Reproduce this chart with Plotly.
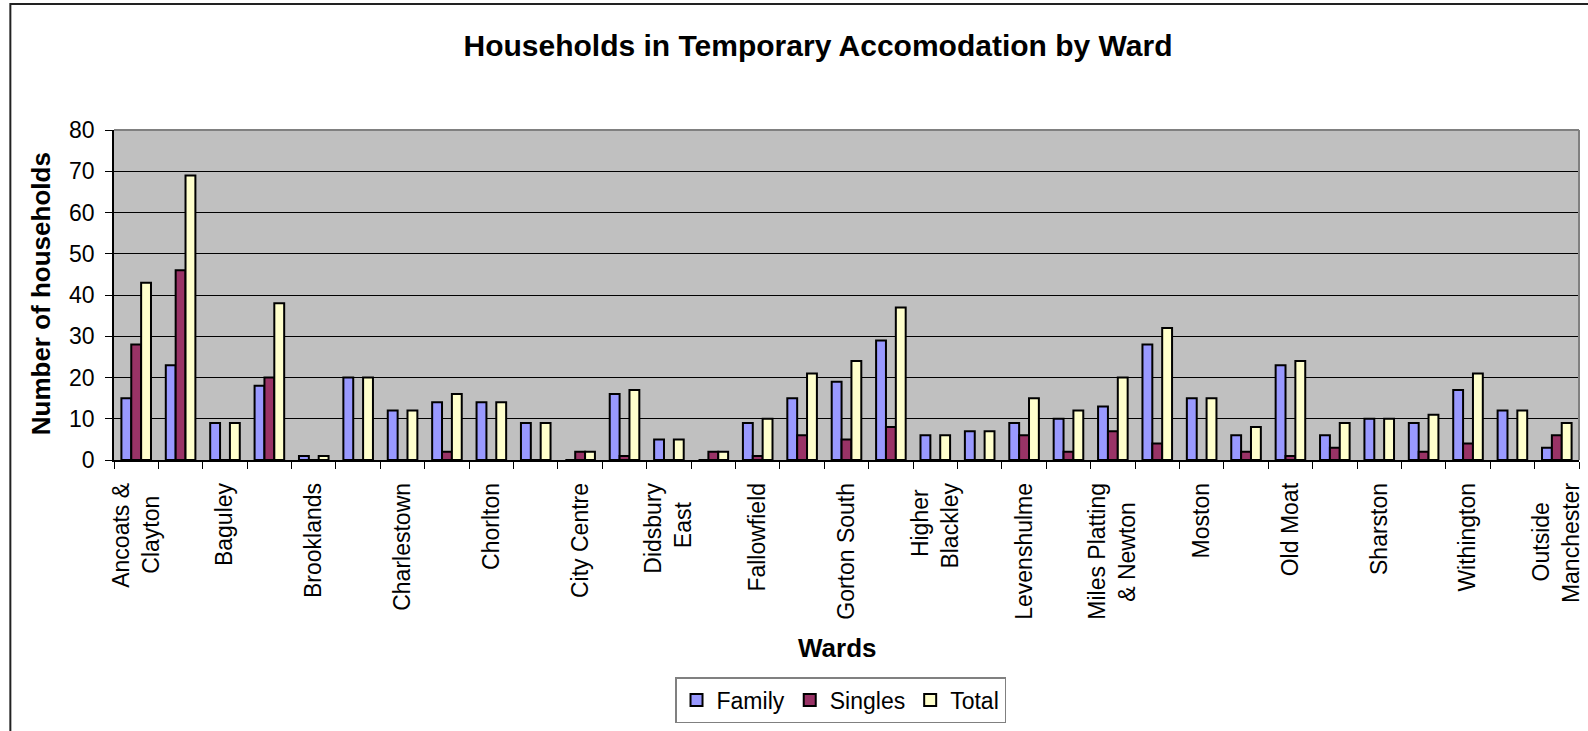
import plotly.graph_objects as go

# Wards in alphabetical order (only every other ward gets a printed label)
wards = [
    "Ancoats & Clayton", "Ardwick", "Baguley", "Bradford", "Brooklands",
    "Burnage", "Charlestown", "Cheetham", "Chorlton", "Chorlton Park",
    "City Centre", "Crumpsall", "Didsbury East", "Didsbury West", "Fallowfield",
    "Gorton North", "Gorton South", "Harpurhey", "Higher Blackley", "Hulme",
    "Levenshulme", "Longsight", "Miles Platting & Newton", "Moss Side", "Moston",
    "Northenden", "Old Moat", "Rusholme", "Sharston", "Whalley Range",
    "Withington", "Woodhouse Park", "Outside Manchester",
]

# Two-line labels: trailing no-break spaces centre the shorter line
NB = "\u00a0"
tick_labels = [
    "Ancoats &<br>Clayton" + NB * 2, "", "Baguley", "", "Brooklands",
    "", "Charlestown", "", "Chorlton", "",
    "City Centre", "", "Didsbury<br>East" + NB * 3, "", "Fallowfield",
    "", "Gorton South", "", "Higher" + NB + "<br>Blackley", "",
    "Levenshulme", "", "Miles Platting<br>& Newton" + NB * 3, "", "Moston",
    "", "Old Moat", "", "Sharston", "",
    "Withington", "", "Outside" + NB * 3 + "<br>Manchester",
]

family = [15, 23, 9, 18, 1, 20, 12, 14, 14, 9, 0, 16, 5, 0, 9, 15, 19, 29,
          6, 7, 9, 10, 13, 28, 15, 6, 23, 6, 10, 9, 17, 12, 3]
singles = [28, 46, 0, 20, 0, 0, 0, 2, 0, 0, 2, 1, 0, 2, 1, 6, 5, 8,
           0, 0, 6, 2, 7, 4, 0, 2, 1, 3, 0, 2, 4, 0, 6]
total = [43, 69, 9, 38, 1, 20, 12, 16, 14, 9, 2, 17, 5, 2, 10, 21, 24, 37,
         6, 7, 15, 12, 20, 32, 15, 8, 24, 9, 10, 11, 21, 12, 9]

FONT = "Liberation Sans, Arial, sans-serif"

# Plot-area geometry in pixels
W, H = 1588, 731
L, R, T, B = 114, 1584, 130, 460


def px_x(px):
    return (px - L) / (R - L)


def px_y(py):
    return (B - py) / (B - T)


fig = go.Figure()
for name, vals, color in [
    ("Family", family, "#9999FF"),
    ("Singles", singles, "#993366"),
    ("Total", total, "#FFFFCC"),
]:
    fig.add_trace(go.Bar(
        name=name, x=wards, y=vals,
        marker=dict(color=color, line=dict(color="black", width=2)),
    ))

fig.update_layout(
    width=W, height=H,
    margin=dict(l=L, r=W - R, t=T, b=H - B, pad=0),
    paper_bgcolor="white",
    plot_bgcolor="#C0C0C0",
    barmode="group",
    bargap=1 / 3,
    bargroupgap=0,
    font=dict(family=FONT, size=23, color="black"),
    title=dict(
        text="<b>Households in Temporary Accomodation by Ward</b>",
        font=dict(family=FONT, size=30, color="black"),
        x=818 / W, xanchor="center", xref="container",
        y=1 - 45 / H, yanchor="middle", yref="container",
    ),
    legend=dict(
        orientation="h",
        x=px_x(843), xanchor="center",
        y=px_y(700), yanchor="middle",
        bordercolor="#808080", borderwidth=1.5,
        bgcolor="white",
        font=dict(family=FONT, size=23, color="black"),
        itemwidth=30,
    ),
    showlegend=True,
)

fig.update_xaxes(
    type="category",
    tickmode="array", tickvals=wards, ticktext=tick_labels,
    tickangle=-90,
    tickson="boundaries",
    ticks="outside", ticklen=7, tickcolor="black", tickwidth=1,
    showline=True, linecolor="black", linewidth=1.5,
    showgrid=False,
    ticklabelstandoff=12,
    tickfont=dict(family=FONT, size=23, color="black"),
)

fig.update_yaxes(
    range=[0, 80], dtick=10, tick0=0,
    ticks="outside", ticklen=7, tickcolor="black", tickwidth=1,
    showline=True, linecolor="black", linewidth=1.5,
    showgrid=True, gridcolor="black", gridwidth=1,
    zeroline=False,
    ticklabelstandoff=6,
    tickfont=dict(family=FONT, size=23, color="black"),
)

# Axis titles
fig.add_annotation(
    text="<b>Number of households</b>", textangle=-90,
    xref="paper", yref="paper", x=px_x(41), y=px_y(294),
    xanchor="center", yanchor="middle", showarrow=False,
    font=dict(family=FONT, size=26, color="black"),
)
fig.add_annotation(
    text="<b>Wards</b>",
    xref="paper", yref="paper", x=px_x(840), y=px_y(648),
    xanchor="center", yanchor="middle", showarrow=False,
    font=dict(family=FONT, size=26, color="black"),
)

# Grey plot-area border on the top and right edges
fig.add_shape(type="line", xref="paper", yref="paper", x0=0, x1=1, y0=1, y1=1,
              line=dict(color="#808080", width=2), layer="above")
fig.add_shape(type="line", xref="paper", yref="paper", x0=1, x1=1, y0=0, y1=1,
              line=dict(color="#808080", width=2), layer="above")

# Outer chart-area frame
fig.add_shape(type="rect", xref="paper", yref="paper",
              x0=px_x(10), x1=px_x(W + 10), y0=px_y(H + 10), y1=px_y(4),
              line=dict(color="#222222", width=2), layer="above")

fig.write_html("out.html")
